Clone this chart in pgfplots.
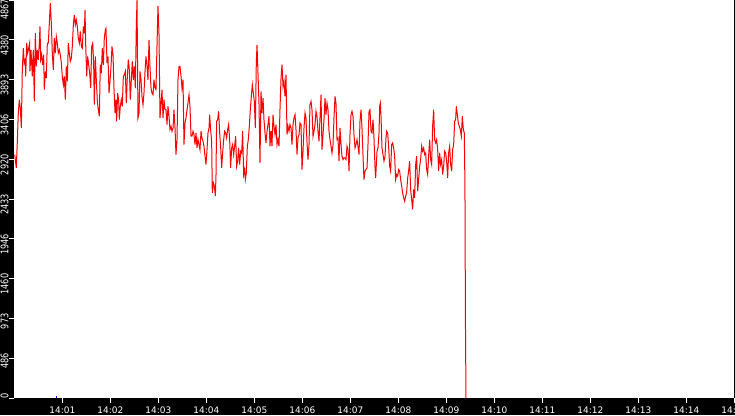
\documentclass[border=0pt]{standalone}
\usepackage{pgfplots}
\pgfplotsset{compat=1.18}
\usepackage{fontspec}
\setmainfont{DejaVu Sans}
\begin{document}
\begin{tikzpicture}[x=1bp,y=1bp]
\fill[black] (0,0) rectangle (735,415);
\begin{axis}[
  at={(14.3bp,17bp)}, anchor=south west,
  scale only axis, width=720bp, height=398bp,
  xmin=0, xmax=900, ymin=0, ymax=4867,
  axis background/.style={fill=white},
  axis line style={draw=none},
  tick align=outside, tick pos=left,
  major tick length=5bp,
  tick style={white, line width=0.8bp},
  xtick={60,120,180,240,300,360,420,480,540,600,660,720,780,840,900},
  xticklabels={14:01,14:02,14:03,14:04,14:05,14:06,14:07,14:08,14:09,14:10,14:11,14:12,14:13,14:14,14:15},
  ytick={0,486.7,973.4,1460.1,1946.8,2433.5,2920.2,3406.9,3893.6,4380.3,4867},
  yticklabels={0,486,973,1460,1946,2433,2920,3406,3893,4380,4867\hspace*{5bp}},
  xticklabel style={font=\fontsize{9}{9}\selectfont, text=white, inner sep=0pt, anchor=base, yshift=-10.3bp},
  yticklabel style={font=\fontsize{10.5}{10.5}\selectfont, text=white, inner sep=0pt, xshift=-0.9bp, yshift=5bp, rotate=90, xscale=0.78, anchor=base east},
]
\addplot[red, line width=1bp] coordinates {
(0.5,2977)(2.5,2814)(3.8,3140)(5.0,3485)(6.3,3648)(7.5,3546)(8.8,3302)(10.0,4014)(11.3,4278)(12.5,4095)(13.8,4136)(14.2,3933)(15.5,4339)(16.7,4217)(18.0,4278)(19.2,4339)(19.6,3994)(20.9,4258)(22.5,3933)(23.8,4258)(25.0,3628)(26.3,4461)(27.5,4055)(28.8,4258)(30.0,4136)(31.3,4339)(32.1,4543)(33.0,4136)(34.2,4197)(35.5,4075)(36.7,4197)(37.5,3770)(38.8,3994)(40.0,3912)(41.3,4339)(42.5,4339)(43.8,4583)(45.0,4827)(46.3,4583)(47.5,4217)(48.8,4014)(50.0,4400)(51.3,4217)(52.5,4421)(53.8,4339)(55.0,4217)(56.3,4258)(57.5,4197)(58.8,4095)(60.0,3933)(61.3,3831)(62.5,3933)(63.8,3648)(65.0,4055)(66.3,3872)(67.5,4339)(68.8,4217)(70.0,4116)(71.3,4156)(72.5,4299)(73.8,4563)(75.0,4685)(76.3,4563)(77.5,4624)(78.8,4543)(80.0,4400)(81.3,4339)(82.5,4482)(83.8,4299)(85.0,4278)(86.3,4543)(87.5,4461)(88.4,4746)(89.2,4339)(90.5,3933)(91.7,4177)(93.0,4075)(94.2,3973)(95.5,3790)(96.7,4299)(98.0,4339)(99.2,4095)(100.0,3587)(101.3,4177)(102.5,3892)(103.8,3628)(105.0,3526)(106.3,3445)(107.5,4075)(108.8,3973)(110.0,4278)(111.3,4075)(112.5,4400)(113.8,4502)
(114.6,4522)(115.9,4095)(117.1,4177)(118.4,3729)(119.6,3872)(120.9,4055)(122.1,4299)(123.4,4197)(124.6,3790)(125.9,3485)(127.1,3648)(127.9,3384)(129.2,3729)(130.4,3648)(131.3,3404)(132.5,3567)(133.8,3648)(135.0,3567)(136.3,3933)(137.5,3953)(138.8,3994)(140.0,3607)(141.3,3933)(142.5,4136)(143.8,4014)(145.0,3648)(146.3,3892)(147.5,4116)(148.8,3892)(150.0,4055)(151.3,3790)(152.5,4543)(153.4,4867)(154.6,3424)(155.9,3485)(157.1,3994)(158.4,3892)(159.6,3689)(160.9,3587)(162.1,3729)(163.4,3994)(164.6,4177)(165.9,4055)(167.1,3892)(168.4,4380)(169.6,4055)(170.9,3790)(172.1,3729)(173.4,3709)(174.6,3892)(175.9,3790)(177.1,3770)(178.4,4319)(179.6,4795)(180.9,4441)(182.1,3424)(183.4,3587)(184.6,3770)(185.9,3424)(187.1,3648)(188.4,3526)(189.6,3526)(190.9,3343)(192.1,3567)(193.4,3445)(194.6,3282)(195.9,3323)(197.1,3262)(198.4,3302)(199.6,3526)(200.9,3302)(202.1,2977)(203.4,3160)(204.6,3892)(205.9,4055)(207.1,4055)(208.4,3933)(209.6,3790)(210.9,3892)(212.1,3099)(213.4,3363)(214.6,3424)(215.9,3526)(217.1,3607)(218.4,3709)(219.6,3567)(220.9,3201)(222.1,3201)(223.4,3262)(224.6,3221)(225.9,3099)(227.1,3241)
(228.4,3058)(229.6,3160)(230.9,3099)(232.1,3038)(233.4,3262)(234.6,3180)(235.9,3140)(237.1,3079)(238.4,2957)(239.6,2855)(240.9,3038)(242.1,3241)(243.4,3302)(244.2,3465)(245.4,3282)(246.7,3140)(247.5,2509)(248.8,2631)(250.0,2591)(251.3,2468)(252.1,2713)(252.9,3384)(254.2,3404)(255.4,3506)(256.7,3241)(258.0,3058)(259.2,2814)(260.4,2997)(261.7,3160)(262.9,3262)(264.2,3241)(265.4,3180)(266.7,3282)(267.9,3343)(269.2,3160)(270.4,2814)(271.7,3058)(272.9,3099)(274.2,2977)(275.4,3079)(276.7,3201)(277.9,2835)(279.2,2896)(280.4,3058)(281.7,2855)(283.0,3018)(284.2,2997)(285.4,3262)(286.7,2733)(287.9,2794)(288.8,2672)(290.0,2753)(291.3,3079)(292.5,3160)(293.8,3323)(295.0,3526)(296.3,3689)(297.5,3831)(298.8,3729)(300.0,3628)(301.3,3302)(302.5,4095)(303.4,4319)(304.6,3973)(305.9,3587)(307.1,2875)(308.4,3750)(309.6,3485)(310.9,3668)(312.1,3404)(313.4,3241)(314.6,3119)(315.9,3262)(317.1,3343)(318.4,3445)(319.6,3079)(320.9,3262)(322.1,3079)(323.4,3465)(324.6,3323)(325.9,3221)(327.1,3343)(328.4,3099)(329.6,3160)(330.9,3079)(332.1,3526)(333.4,3912)(334.6,4075)(335.9,3811)(337.1,3872)(338.4,3689)(339.6,3953)
(340.9,3221)(342.1,3323)(343.4,3262)(344.6,3343)(345.9,3302)(347.1,3099)(348.4,3343)(349.6,3424)(350.9,3465)(352.1,3282)(353.4,2977)(354.6,3180)(355.9,3221)(357.1,3363)(358.4,3343)(359.6,2794)(360.9,3018)(362.1,3302)(363.4,3485)(364.6,3424)(365.9,3119)(367.1,2916)(368.4,3099)(369.6,3587)(370.9,3628)(372.1,3526)(373.4,3201)(374.6,3262)(375.9,3343)(377.1,3506)(378.4,3445)(379.6,3262)(380.9,3140)(382.1,3424)(383.4,3709)(384.6,3038)(385.9,3221)(387.1,3404)(388.4,3668)(389.6,3465)(390.9,3607)(392.1,3526)(393.4,3262)(394.6,3160)(395.9,3079)(397.1,2997)(398.4,3099)(399.6,3424)(400.9,3689)(402.1,3607)(403.4,3160)(404.6,3180)(405.9,2896)(407.1,3302)(408.4,3099)(409.6,2957)(410.9,2916)(412.1,2936)(413.4,2936)(414.6,2916)(415.9,3079)(417.1,3038)(418.4,2774)(419.6,3221)(420.9,3465)(422.1,3506)(423.4,3445)(424.6,3221)(425.9,3058)(427.1,3099)(428.4,3160)(429.6,3079)(430.9,2977)(432.1,3384)(433.4,3526)(434.6,3302)(435.9,2957)(437.1,2672)(438.4,2774)(439.6,2794)(440.9,2814)(442.1,3099)(443.4,3506)(444.6,3526)(445.9,3262)(447.1,3241)(448.4,3404)(449.6,3180)(450.9,2814)(451.7,2692)
(453.4,3018)(454.6,3058)(455.9,3241)(456.7,3567)(457.5,3607)(458.4,3445)(459.6,3058)(460.9,2977)(462.1,2896)(463.4,2957)(464.6,3180)(465.4,3262)(466.7,3241)(467.9,3079)(469.2,2835)(470.4,2774)(471.7,3099)(472.9,3119)(474.2,3058)(475.4,2957)(476.7,2672)(477.9,2733)(479.2,2713)(480.4,2794)(481.7,2774)(482.9,2672)(484.2,2591)(485.4,2509)(486.7,2448)(487.9,2408)(489.2,2469)(490.4,2509)(491.7,2692)(492.9,2774)(494.2,2896)(495.4,2550)(496.7,2428)(497.9,2306)(499.2,2550)(500.4,2448)(501.7,2855)(502.9,2957)(504.2,2530)(505.4,2672)(506.7,2835)(507.9,2916)(509.2,3079)(510.4,3018)(511.7,3058)(512.9,2977)(514.2,2997)(515.4,2794)(516.7,2733)(517.9,2957)(519.2,3160)(520.4,2916)(521.7,2855)(522.9,3323)(524.2,3526)(525.4,3160)(526.7,3119)(527.9,3160)(529.2,3038)(530.4,2774)(531.7,2997)(532.9,2855)(534.2,2916)(535.4,2733)(536.7,2835)(537.9,3018)(539.2,2997)(540.4,2896)(541.7,2692)(542.9,2997)(544.2,3079)(545.4,2855)(546.7,2774)(547.9,3038)(549.2,3099)(550.4,3384)(551.7,3404)(552.5,3567)(553.8,3465)(555.0,3363)(556.3,3323)(557.5,3282)(558.8,3201)(560.0,3445)(561.3,3282)(562.5,3241)(563.3,2591)(563.9,964)(564.6,0)
};
\addplot[blue, line width=1.2bp] coordinates {(52.1,12)(53.8,12)};
\end{axis}
\pgfresetboundingbox
\path[use as bounding box] (0,0) rectangle (735,415);
\end{tikzpicture}
\end{document}
